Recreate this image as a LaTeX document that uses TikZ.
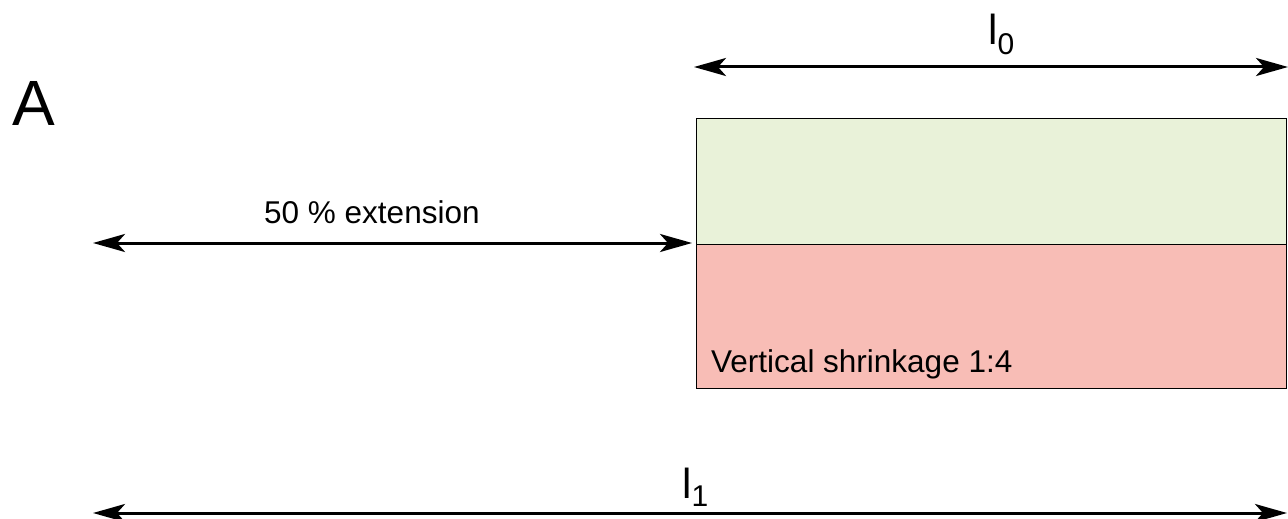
\documentclass[tikz,border=0pt]{standalone}
\usepackage{fontspec}
\setmainfont{Liberation Sans}
\usetikzlibrary{arrows.meta}
\definecolor{boxgreen}{RGB}{233,242,217}
\definecolor{boxred}{RGB}{248,189,182}
\begin{document}
\begin{tikzpicture}[x=1pt,y=-1pt,
  dim/.style={line width=3pt,{Stealth[length=32pt,width=18pt,inset=8pt]}-{Stealth[length=32pt,width=18pt,inset=8pt]}, shorten <=-1pt, shorten >=-1pt},
  panel/.style={draw=black,line width=1.3pt,minimum width=590pt,inner sep=0pt,anchor=north west},
  lbl/.style={inner sep=0pt,anchor=base west,font=\fontsize{31.5}{38}\selectfont},
  sym/.style={inner sep=0pt,anchor=base west}]
\useasboundingbox (0,0) rectangle (1288,519);
% box
\node[panel,fill=boxgreen,minimum height=126pt] (upper) at (696,118) {};
\node[panel,fill=boxred,minimum height=144pt] (lower) at (696,244) {};
% labels
\node[inner sep=0pt,anchor=base west,font=\fontsize{64}{70}\selectfont] (A) at (12,125) {A};
\node[lbl] (ext) at (264,223) {50 \% extension};
\node[lbl] (shr) at (711,372) {Vertical shrinkage 1:4};
\node[sym] (l0) at (988,45) {{\fontsize{42}{50}\selectfont l}{\fontsize{30}{36}\selectfont\raisebox{-10pt}{0}}};
\node[sym] (l1) at (682,498) {{\fontsize{42}{50}\selectfont l}{\fontsize{30}{36}\selectfont\raisebox{-8pt}{1}}};
% arrow ends
\coordinate (t1) at (695,67);
\coordinate (t2) at (1287,67);
\coordinate (m1) at (94,243);
\coordinate (m2) at (691,243);
\coordinate (b1) at (94,513);
\coordinate (b2) at (1286,513);
\draw[dim] (t1) -- (t2);
\draw[dim] (m1) -- (m2);
\draw[dim] (b1) -- (b2);
\end{tikzpicture}
\end{document}
